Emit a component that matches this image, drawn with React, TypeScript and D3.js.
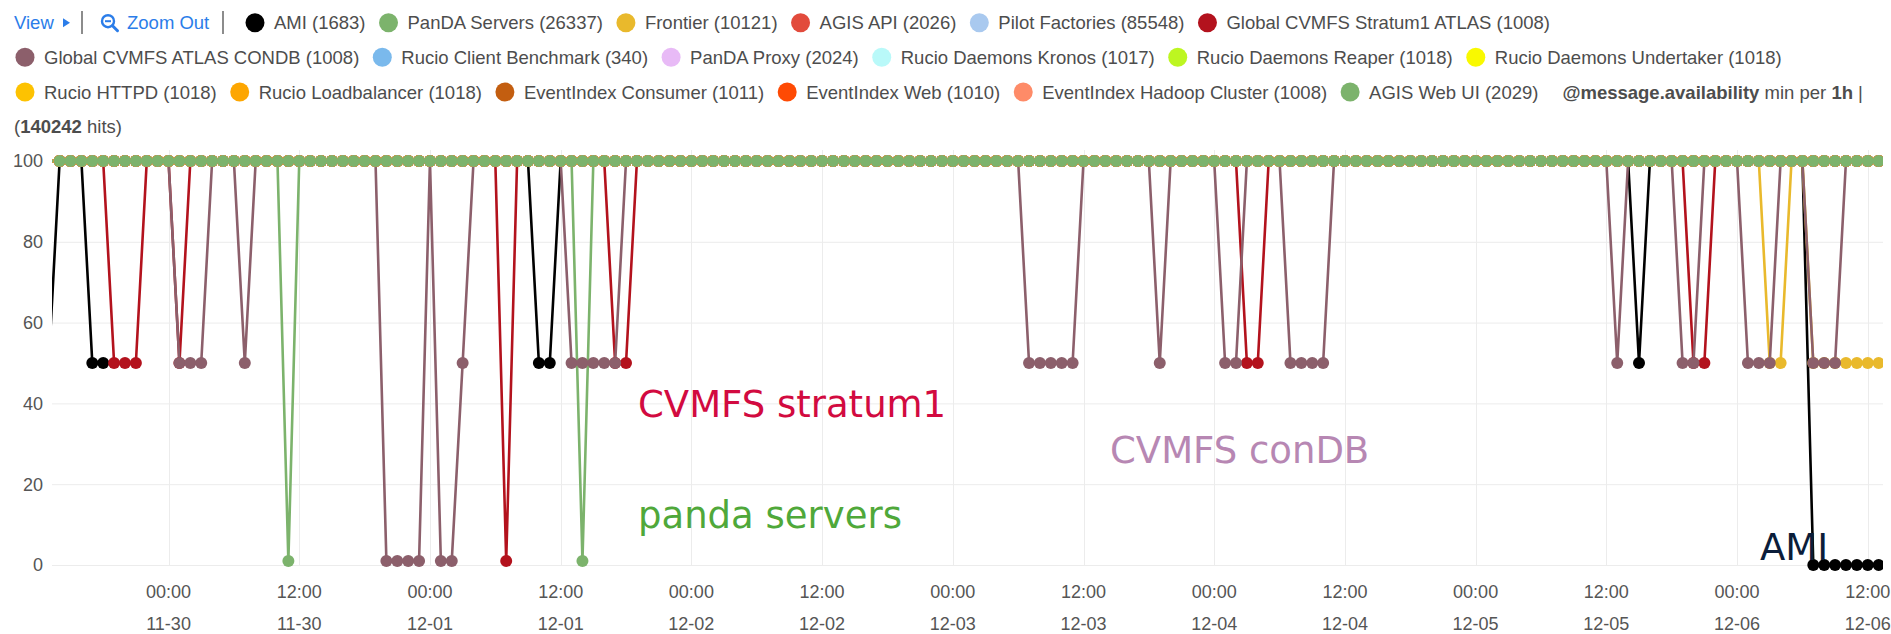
import React, { useEffect, useRef } from 'react'
import * as d3 from 'd3'

const width = 1891
const height = 634

const seriesNames = [
    'AMI', 'PanDA Servers', 'Frontier', 'AGIS API', 'Pilot Factories',
    'Global CVMFS Stratum1 ATLAS', 'Global CVMFS ATLAS CONDB', 'Rucio Client Benchmark',
    'PanDA Proxy', 'Rucio Daemons Kronos', 'Rucio Daemons Reaper', 'Rucio Daemons Undertaker',
    'Rucio HTTPD', 'Rucio Loadbalancer', 'EventIndex Consumer', 'EventIndex Web',
    'EventIndex Hadoop Cluster', 'AGIS Web UI',
]
const seriesHits = [1683, 26337, 10121, 2026, 85548, 1008, 1008, 340, 2024, 1017, 1018, 1018, 1018, 1018, 1011, 1010, 1008, 2029]
const seriesColors = [
    '#000000', '#7cb36c', '#e9b92c', '#e24b3c', '#a9c9ef', '#b3121d', '#8c5f6b', '#7ab9ec',
    '#e8baf6', '#b9f9f9', '#bdf621', '#f9f900', '#fdc201', '#fda601', '#c35e10', '#fe4a04',
    '#fe8b68', '#7cb36c',
]

// hourly buckets, counted in hours from 11-30 00:00
const firstHour = -11
const lastHour = 157

// buckets where min availability dropped below 100, [hour, value]
const amiLow = [[-11, 50], [-7, 50], [-6, 50], [34, 50], [35, 50], [135, 50],
    [151, 0], [152, 0], [153, 0], [154, 0], [155, 0], [156, 0], [157, 0]]
const amiMissing = [-5]
const pandaLow = [[11, 1], [38, 1]]
const frontierLow = [[147, 50], [148, 50], [151, 50], [152, 50], [153, 50], [154, 50],
    [155, 50], [156, 50], [157, 50]]
const stratum1Low = [[-5, 50], [-4, 50], [-3, 50], [1, 50], [31, 1], [41, 50], [42, 50],
    [99, 50], [100, 50], [140, 50], [141, 50]]
const condbLow = [[1, 50], [2, 50], [3, 50], [7, 50], [20, 1], [21, 1], [22, 1], [23, 1],
    [25, 1], [26, 1], [27, 50], [37, 50], [38, 50], [39, 50], [40, 50], [41, 50],
    [79, 50], [80, 50], [81, 50], [82, 50], [83, 50], [91, 50], [97, 50], [98, 50],
    [103, 50], [104, 50], [105, 50], [106, 50], [133, 50], [139, 50], [140, 50],
    [145, 50], [146, 50], [147, 50], [151, 50], [152, 50], [153, 50]]

const lowBySeries = { 0: amiLow, 1: pandaLow, 2: frontierLow, 5: stratum1Low, 6: condbLow }
const missingBySeries = { 0: amiMissing }

const legendRows = [[0, 1, 2, 3, 4, 5], [6, 7, 8, 9, 10, 11], [12, 13, 14, 15, 16, 17]]

const base = new Date(2017, 10, 30, 0, 0)
const font = '"Liberation Sans", Arial, Helvetica, sans-serif'
const textGrey = '#4d4d4d'
const blue = '#2b7de9'

const App = () => {
    const ref = useRef<SVGSVGElement>(null)

    useEffect(() => {
        const svg = d3.select(ref.current)
        svg.selectAll('*').remove()

        const x = d3.scaleTime()
            .domain([d3.timeMinute.offset(base, -642), d3.timeMinute.offset(base, 157.4 * 60)])
            .range([52, 1883])
        const y = d3.scaleLinear().domain([0, 100]).range([565, 161])
        const [x0, x1] = x.range()

        // grid
        const grid = svg.append('g').attr('stroke', '#ececec').attr('stroke-width', 1)
        grid.selectAll('line.h').data(y.ticks(5)).join('line')
            .attr('class', 'h')
            .attr('x1', x0).attr('x2', x1)
            .attr('y1', d => y(d) + 0.5).attr('y2', d => y(d) + 0.5)
        const ticks = x.ticks(d3.timeHour.every(12))
        grid.selectAll('line.v').data(ticks).join('line')
            .attr('class', 'v')
            .attr('x1', d => Math.round(x(d)) + 0.5).attr('x2', d => Math.round(x(d)) + 0.5)
            .attr('y1', 150).attr('y2', y(0))

        // y labels
        svg.append('g').selectAll('text').data(y.ticks(5)).join('text')
            .attr('x', 43).attr('y', d => y(d)).attr('dy', '0.35em')
            .attr('text-anchor', 'end')
            .style('font', `18px ${font}`).attr('fill', '#555')
            .text(d => d)

        // x labels, time over date
        const xl = svg.append('g').style('font', `18px ${font}`).attr('fill', '#555')
            .attr('text-anchor', 'middle')
        xl.selectAll('text.t').data(ticks).join('text').attr('class', 't')
            .attr('x', d => x(d)).attr('y', 598).text(d3.timeFormat('%H:%M'))
        xl.selectAll('text.d').data(ticks).join('text').attr('class', 'd')
            .attr('x', d => x(d)).attr('y', 630).text(d3.timeFormat('%m-%d'))

        // series
        const hours = d3.range(firstHour, lastHour + 1)
        const series = seriesNames.map((name, i) => {
            const low = new Map(lowBySeries[i] || [])
            const gaps = new Set(missingBySeries[i] || [])
            return {
                name,
                color: seriesColors[i],
                points: hours.map(h => ({
                    t: d3.timeHour.offset(base, h),
                    v: gaps.has(h) ? null : low.has(h) ? low.get(h) : 100,
                })),
            }
        })

        svg.append('clipPath').attr('id', 'plot-clip')
            .append('rect').attr('x', x0).attr('y', 140).attr('width', x1 - x0).attr('height', 440)

        const plot = svg.append('g').attr('clip-path', 'url(#plot-clip)')
        const line = d3.line<any>()
            .defined(d => d.v != null)
            .x(d => x(d.t))
            .y(d => y(d.v))

        plot.append('g').selectAll('path').data(series).join('path')
            .attr('d', d => line(d.points))
            .attr('fill', 'none')
            .attr('stroke', d => d.color)
            .attr('stroke-width', 2.6)
            .attr('stroke-linejoin', 'round')

        // markers only for buckets inside the visible range
        plot.append('g').selectAll('g').data(series).join('g')
            .attr('fill', d => d.color)
            .selectAll('circle')
            .data(d => d.points.filter(p => p.v != null && x(p.t) >= x0 && x(p.t) <= x1))
            .join('circle')
            .attr('cx', d => x(d.t))
            .attr('cy', d => y(d.v))
            .attr('r', 6)

        // legend
        const legend = svg.append('g').style('font', `18.5px ${font}`)
        const rowY = [22.7, 57.3, 92, 126.5]

        const measure = (sel) => (sel.node() as SVGTextElement).getComputedTextLength()

        // row 1 controls
        legend.append('text').attr('x', 14).attr('y', rowY[0] + 6.5).attr('fill', blue).text('View')
        legend.append('path').attr('d', `M63,${rowY[0] - 4.5} L70,${rowY[0]} L63,${rowY[0] + 4.5} Z`).attr('fill', blue)
        legend.append('line').attr('x1', 82).attr('x2', 82).attr('y1', 11).attr('y2', 34)
            .attr('stroke', '#666').attr('stroke-width', 1.5)
        const mag = legend.append('g').attr('stroke', blue).attr('fill', 'none').attr('stroke-width', 2.4)
        mag.append('circle').attr('cx', 108).attr('cy', rowY[0] - 1.5).attr('r', 6)
        mag.append('line').attr('x1', 112.5).attr('y1', rowY[0] + 3).attr('x2', 117.5).attr('y2', rowY[0] + 8)
            .attr('stroke-width', 3).attr('stroke-linecap', 'round')
        mag.append('line').attr('x1', 105).attr('x2', 111).attr('y1', rowY[0] - 1.5).attr('y2', rowY[0] - 1.5)
            .attr('stroke-width', 2)
        legend.append('text').attr('x', 127).attr('y', rowY[0] + 6.5).attr('fill', blue).text('Zoom Out')
        legend.append('line').attr('x1', 223).attr('x2', 223).attr('y1', 11).attr('y2', 34)
            .attr('stroke', '#666').attr('stroke-width', 1.5)

        let endX = 0
        legendRows.forEach((row, r) => {
            let cx = r === 0 ? 255 : 25
            row.forEach(i => {
                legend.append('circle').attr('cx', cx).attr('cy', rowY[r]).attr('r', 9.5)
                    .attr('fill', seriesColors[i])
                const t = legend.append('text').attr('x', cx + 19).attr('y', rowY[r] + 6.5)
                    .attr('fill', textGrey)
                    .text(`${seriesNames[i]} (${seriesHits[i]})`)
                endX = cx + 19 + measure(t)
                cx = endX + 23
            })
        })

        const agg = legend.append('text').attr('x', endX + 24).attr('y', rowY[2] + 6.5).attr('fill', textGrey)
        agg.append('tspan').attr('font-weight', 'bold').text('@message.availability')
        agg.append('tspan').text(' min per ')
        agg.append('tspan').attr('font-weight', 'bold').text('1h')
        agg.append('tspan').text(' |')

        const hits = legend.append('text').attr('x', 14).attr('y', rowY[3] + 6.5).attr('fill', textGrey)
        hits.append('tspan').text('(')
        hits.append('tspan').attr('font-weight', 'bold').text(d3.sum(seriesHits))
        hits.append('tspan').text(' hits)')

        // hand-written notes on top of the chart
        const notes = svg.append('g').style('font', '37px "DejaVu Sans", Verdana, sans-serif')
        notes.append('text').attr('x', 638).attr('y', 417).attr('fill', '#d20a40').text('CVMFS stratum1')
        notes.append('text').attr('x', 1110).attr('y', 463).attr('fill', '#b787b3').text('CVMFS conDB')
        notes.append('text').attr('x', 638).attr('y', 528).attr('fill', '#4fa83a').text('panda servers')
        notes.append('text').attr('x', 1760).attr('y', 560).attr('fill', '#0b1d3a').text('AMI')
    }, [])

    return (
        <svg
            ref={ref}
            width={width}
            height={height}
            style={{ position: 'absolute', left: 0, top: 0, display: 'block', background: '#fff' }}
        />
    )
}

export default App
